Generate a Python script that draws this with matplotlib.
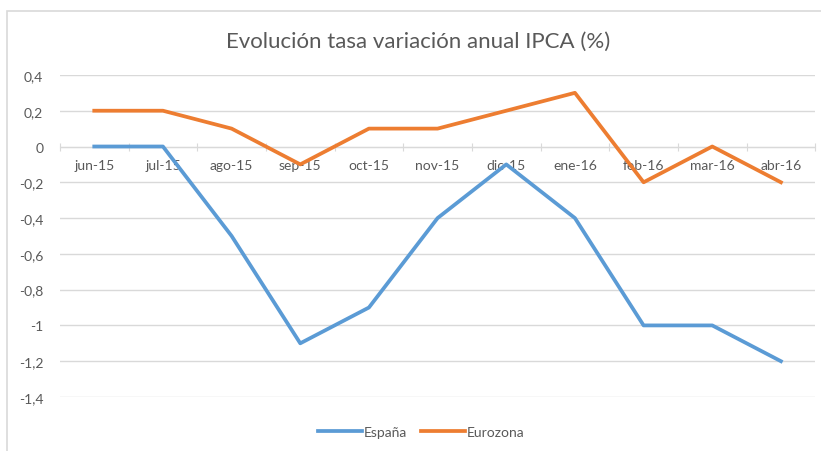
import numpy as np
import matplotlib.pyplot as plt
from matplotlib.patches import Rectangle

meses = ["jun-15", "jul-15", "ago-15", "sep-15", "oct-15", "nov-15",
         "dic-15", "ene-16", "feb-16", "mar-16", "abr-16"]
espana = [0.0, 0.0, -0.5, -1.1, -0.9, -0.4, -0.1, -0.4, -1.0, -1.0, -1.2]
eurozona = [0.2, 0.2, 0.1, -0.1, 0.1, 0.1, 0.2, 0.3, -0.2, 0.0, -0.2]
yticks = [0.4, 0.2, 0.0, -0.2, -0.4, -0.6, -0.8, -1.0, -1.2, -1.4]
ytick_labels = ["0,4", "0,2", "0", "-0,2", "-0,4", "-0,6", "-0,8", "-1", "-1,2", "-1,4"]

plt.rcParams['font.family'] = ['Lato', 'DejaVu Sans']
gris_txt = "#595959"
gris_lin = "#d9d9d9"

fig = plt.figure(figsize=(8.21, 4.52), dpi=100)
# marco del grafico
fig.patches.append(Rectangle((0.0085, -0.1), 1.2, 0.973 + 0.1, transform=fig.transFigure,
                             fill=False, edgecolor=gris_lin, linewidth=1.2))

ax = fig.add_axes([0.073, 0.1195, 0.92, 0.7125])
x = np.arange(len(meses))
ax.plot(x, espana, color="#5B9BD5", lw=2.7, label="España", solid_joinstyle="round", zorder=3)
ax.plot(x, eurozona, color="#ED7D31", lw=2.7, label="Eurozona", solid_joinstyle="round", zorder=3)

ax.set_xlim(-0.5, len(meses) - 0.5)
ax.set_ylim(-1.4, 0.4)
ax.set_yticks(yticks)
ax.set_yticklabels(ytick_labels)
ax.yaxis.grid(True, color=gris_lin, lw=1)
ax.set_axisbelow(True)
ax.tick_params(axis="y", length=0, pad=12, labelsize=10, labelcolor=gris_txt)

for s in ["top", "right", "left"]:
    ax.spines[s].set_visible(False)
ax.spines["bottom"].set_position(("data", 0))
ax.spines["bottom"].set_color(gris_lin)

# marcas entre categorias, etiquetas en el centro
ax.set_xticks(np.arange(-0.5, len(meses)), minor=False)
ax.set_xticklabels([])
ax.tick_params(axis="x", which="major", length=6, direction="inout", color=gris_lin)
ax.set_xticks(x, minor=True)
ax.set_xticklabels(meses, minor=True)
ax.tick_params(axis="x", which="minor", length=0, pad=9, labelsize=10, labelcolor=gris_txt)

fig.text(0.509, 0.907, "Evolución tasa variación anual IPCA (%)", ha="center", va="center",
         fontsize=16, color=gris_txt)

fig.legend(loc="center", bbox_to_anchor=(0.513, 0.042), ncol=2, frameon=False,
           fontsize=10, labelcolor=gris_txt, handlelength=3.2, handletextpad=0.1,
           columnspacing=1.0)

fig.savefig("out.png", dpi=100)
